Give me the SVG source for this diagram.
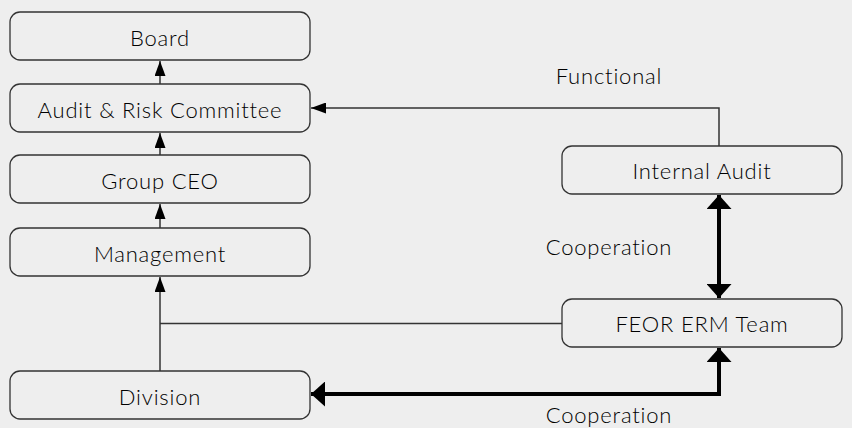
<svg xmlns="http://www.w3.org/2000/svg" width="852" height="428" viewBox="0 0 852 428">
<defs>
<style>
.box{fill:#eeeeee;stroke:#333;stroke-width:1.3}
.t{font-family:Lato,"Liberation Sans",sans-serif;font-size:22px;font-weight:300;letter-spacing:0.8px;fill:#000;text-anchor:middle}
.thin{fill:none;stroke:#333;stroke-width:1.5}
.thick{fill:none;stroke:#000;stroke-width:4}
</style>
<marker id="a" markerUnits="userSpaceOnUse" viewBox="0 0 15 11" refX="15" refY="5.5" markerWidth="15" markerHeight="11" orient="auto"><path d="M0,0 L15,5.5 L0,11 Z" fill="#000"/></marker>
<marker id="b" markerUnits="userSpaceOnUse" viewBox="0 0 14 25" refX="14" refY="12.5" markerWidth="14" markerHeight="25" orient="auto"><path d="M0,0 L14,12.5 L0,25 Z" fill="#000"/></marker>
<marker id="bs" markerUnits="userSpaceOnUse" viewBox="0 0 14 25" refX="0" refY="12.5" markerWidth="14" markerHeight="25" orient="auto"><path d="M14,0 L0,12.5 L14,25 Z" fill="#000"/></marker>
</defs>
<rect width="852" height="428" fill="#eeeeee"/>
<g id="connectors">
<path class="thin" d="M160,84 V61" marker-end="url(#a)"/>
<path class="thin" d="M160,155 V133" marker-end="url(#a)"/>
<path class="thin" d="M160,228 V204" marker-end="url(#a)"/>
<path class="thin" d="M160,371 V277" marker-end="url(#a)"/>
<path class="thin" d="M562,323.5 H160"/>
<path class="thin" d="M719,146 V108 H311" marker-end="url(#a)"/>
<path class="thick" d="M719,195 V298" marker-start="url(#bs)" marker-end="url(#b)"/>
<path class="thick" d="M311,394 H719 V348" marker-start="url(#bs)" marker-end="url(#b)"/>
</g>
<g id="board"><rect class="box" x="10" y="12" width="300" height="48" rx="10"/><text class="t" x="160" y="46">Board</text></g>
<g id="audit-risk"><rect class="box" x="10" y="84" width="300" height="48" rx="10"/><text class="t" x="160" y="118">Audit &amp; Risk Committee</text></g>
<g id="group-ceo"><rect class="box" x="10" y="155" width="300" height="48" rx="10"/><text class="t" x="160" y="189">Group CEO</text></g>
<g id="management"><rect class="box" x="10" y="228" width="300" height="48" rx="10"/><text class="t" x="160" y="262">Management</text></g>
<g id="division"><rect class="box" x="10" y="371" width="300" height="48" rx="10"/><text class="t" x="160" y="405">Division</text></g>
<g id="internal-audit"><rect class="box" x="562" y="146" width="280" height="48" rx="10"/><text class="t" x="702" y="179">Internal Audit</text></g>
<g id="feor-erm"><rect class="box" x="562" y="299" width="280" height="48" rx="10"/><text class="t" x="702" y="332">FEOR ERM Team</text></g>
<g id="labels">
<text class="t" x="609" y="84">Functional</text>
<text class="t" x="609" y="255">Cooperation</text>
<text class="t" x="609" y="423">Cooperation</text>
</g>
</svg>
